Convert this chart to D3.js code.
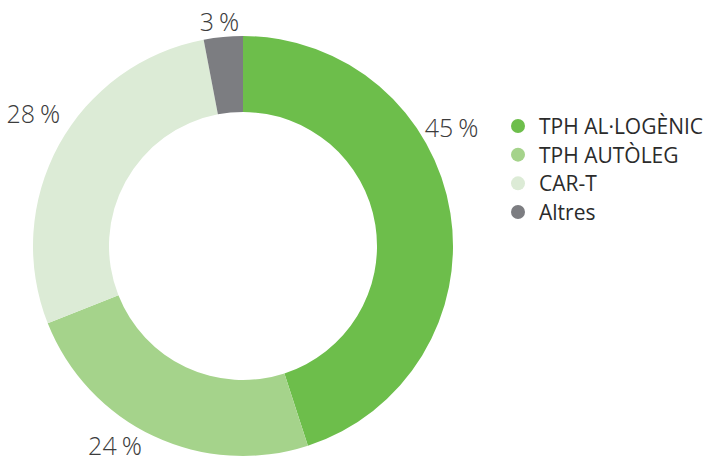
<!DOCTYPE html>
<html>
<head>
<meta charset="utf-8">
<script src="https://cdn.jsdelivr.net/npm/d3@7"></script>
<style>
  body { margin: 0; background: #fff; }
  svg { display: block; font-family: 'Open Sans', sans-serif; }
  .pct { font-family: 'Open Sans Light', 'Open Sans', sans-serif; }
</style>
</head>
<body>
<svg id="chart"></svg>
<script>
const width = 705
const height = 461

const categories = ['TPH AL·LOGÈNIC', 'TPH AUTÒLEG', 'CAR-T', 'Altres']
const values = [45, 24, 28, 3]
const colors = ['#6dbe4b', '#a5d38b', '#dcebd6', '#7c7d81']
// labels are hand placed in the original, so each gets its own angle nudge and radius
const labelNudge = [-20.6, 7.5, 3.5, -0.6]
const labelRadius = [240, 237, 248, 226]

const cx = 243, cy = 246
const outerR = 210, innerR = 134

const svg = d3.select('#chart')
    .attr('width', width)
    .attr('height', height)

const pie = d3.pie().sort(null).value(d => d)
const arcs = pie(values)

const arc = d3.arc().innerRadius(innerR).outerRadius(outerR)

const g = svg.append('g').attr('transform', `translate(${cx}, ${cy})`)

g.selectAll('path.slice')
    .data(arcs)
    .join('path')
    .attr('class', 'slice')
    .attr('d', arc)
    .attr('fill', (d, i) => colors[i])

const labelAngle = (d, i) => (d.startAngle + d.endAngle) / 2 + labelNudge[i] * Math.PI / 180

g.selectAll('text.pct')
    .data(arcs)
    .join('text')
    .attr('class', 'pct')
    .attr('x', (d, i) => Math.sin(labelAngle(d, i)) * labelRadius[i])
    .attr('y', (d, i) => -Math.cos(labelAngle(d, i)) * labelRadius[i])
    .attr('text-anchor', 'middle')
    .attr('dominant-baseline', 'central')
    .attr('font-size', 25)
    .attr('font-weight', 300)
    .attr('fill', '#3c3c3c')
    .text(d => `${d.data}\u2009%`)

// legend
const legend = svg.append('g').attr('transform', 'translate(518, 126)')
const rowY = d3.scalePoint().domain(d3.range(categories.length)).range([0, 86])

const rows = legend.selectAll('g.row')
    .data(categories)
    .join('g')
    .attr('class', 'row')
    .attr('transform', (d, i) => `translate(0, ${rowY(i)})`)

rows.append('circle')
    .attr('r', 7)
    .attr('fill', (d, i) => colors[i])

rows.append('text')
    .attr('x', 21)
    .attr('dominant-baseline', 'central')
    .attr('font-size', 21)
    .attr('fill', '#2b2b2b')
    .text(d => d)
</script>
</body>
</html>
